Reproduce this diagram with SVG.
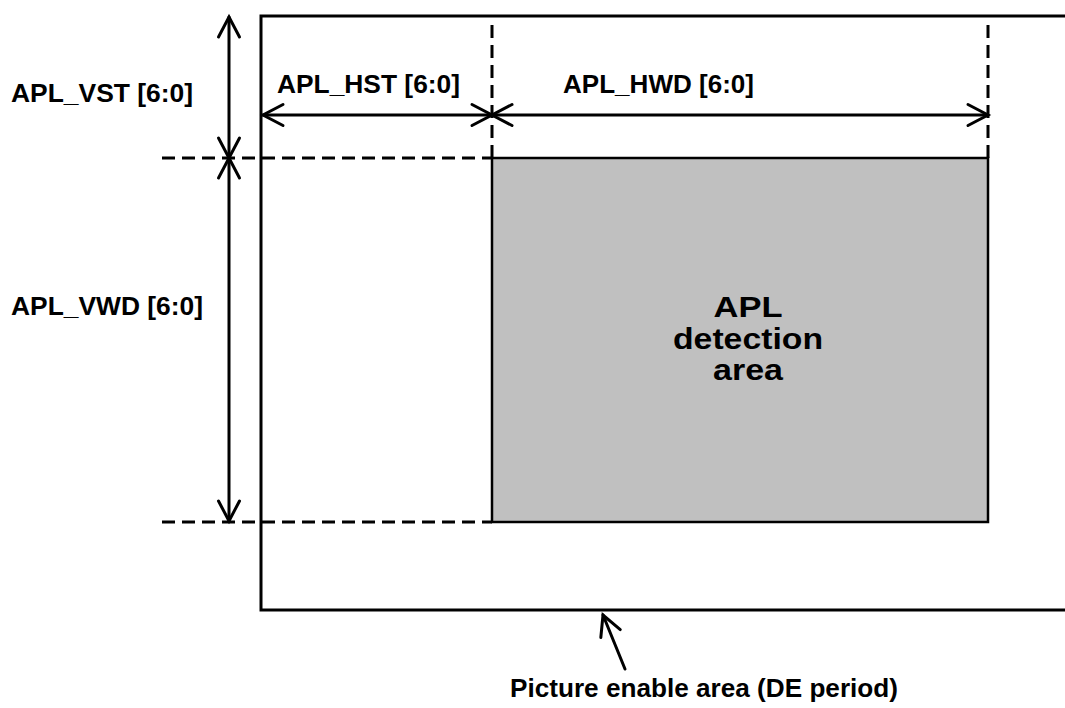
<svg xmlns="http://www.w3.org/2000/svg" width="1065" height="708" viewBox="0 0 1065 708">
  <style>
    .lbl { font-family: "Liberation Sans", Arial, sans-serif; font-weight: bold; font-size: 26.5px; fill: #000; }
    .big { font-family: "Liberation Sans", Arial, sans-serif; font-weight: bold; font-size: 29px; fill: #000; text-anchor: middle; }
    .solid { fill: none; stroke: #000; stroke-width: 3; }
    .dash { fill: none; stroke: #000; stroke-width: 3; stroke-dasharray: 13 7; }
    .dim { fill: none; stroke: #000; stroke-width: 3; stroke-linecap: round; marker-start: url(#open); marker-end: url(#open); }
  </style>
  <defs>
    <marker id="open" markerUnits="userSpaceOnUse" viewBox="-24 -14 28 28" refX="0" refY="0" markerWidth="28" markerHeight="28" orient="auto-start-reverse">
      <path d="M-20,-10.5 L0,0 L-20,10.5" fill="none" stroke="#000" stroke-width="3" stroke-linecap="round" stroke-linejoin="miter"/>
    </marker>
    <marker id="openEnd" markerUnits="userSpaceOnUse" viewBox="-24 -14 28 28" refX="0" refY="0" markerWidth="28" markerHeight="28" orient="auto">
      <path d="M-20,-10.5 L0,0 L-20,10.5" fill="none" stroke="#000" stroke-width="3" stroke-linecap="round"/>
    </marker>
  </defs>

  <!-- picture enable area (open on the right) -->
  <g id="picture-area">
    <path class="solid" d="M1066,16 H261 V610 H1066"/>
  </g>

  <!-- APL detection window -->
  <g id="detection-area">
    <rect x="492" y="158" width="496" height="364" fill="#c0c0c0" stroke="#000" stroke-width="2.5"/>
    <text class="big" x="748" y="317" textLength="69" lengthAdjust="spacingAndGlyphs">APL</text>
    <text class="big" x="748" y="349" textLength="150" lengthAdjust="spacingAndGlyphs">detection</text>
    <text class="big" x="748" y="380" textLength="70" lengthAdjust="spacingAndGlyphs">area</text>
  </g>

  <!-- dimension labels -->
  <g id="labels">
    <text class="lbl" x="11" y="102" textLength="182" lengthAdjust="spacingAndGlyphs">APL_VST [6:0]</text>
    <text class="lbl" x="11" y="315" textLength="192" lengthAdjust="spacingAndGlyphs">APL_VWD [6:0]</text>
    <text class="lbl" x="277" y="93" textLength="183" lengthAdjust="spacingAndGlyphs">APL_HST [6:0]</text>
    <text class="lbl" x="563" y="93" textLength="191" lengthAdjust="spacingAndGlyphs">APL_HWD [6:0]</text>
    <text class="lbl" x="510" y="697" textLength="388" lengthAdjust="spacingAndGlyphs">Picture enable area (DE period)</text>
  </g>

  <!-- extension lines and dimension arrows -->
  <g id="connectors">
    <line class="dash" x1="162" y1="158" x2="492" y2="158"/>
    <line class="dash" x1="162" y1="522" x2="492" y2="522"/>
    <line class="dash" x1="492" y1="25" x2="492" y2="158"/>
    <line class="dash" x1="988" y1="25" x2="988" y2="158"/>

    <line class="dim" x1="229" y1="17" x2="229" y2="158"/>
    <line class="dim" x1="229" y1="158" x2="229" y2="521"/>
    <line class="dim" x1="263" y1="115" x2="492" y2="115"/>
    <line class="dim" x1="492" y1="115" x2="988" y2="115"/>

    <line x1="625" y1="669" x2="603" y2="615" stroke="#000" stroke-width="3" stroke-linecap="round" marker-end="url(#openEnd)"/>
  </g>
</svg>
